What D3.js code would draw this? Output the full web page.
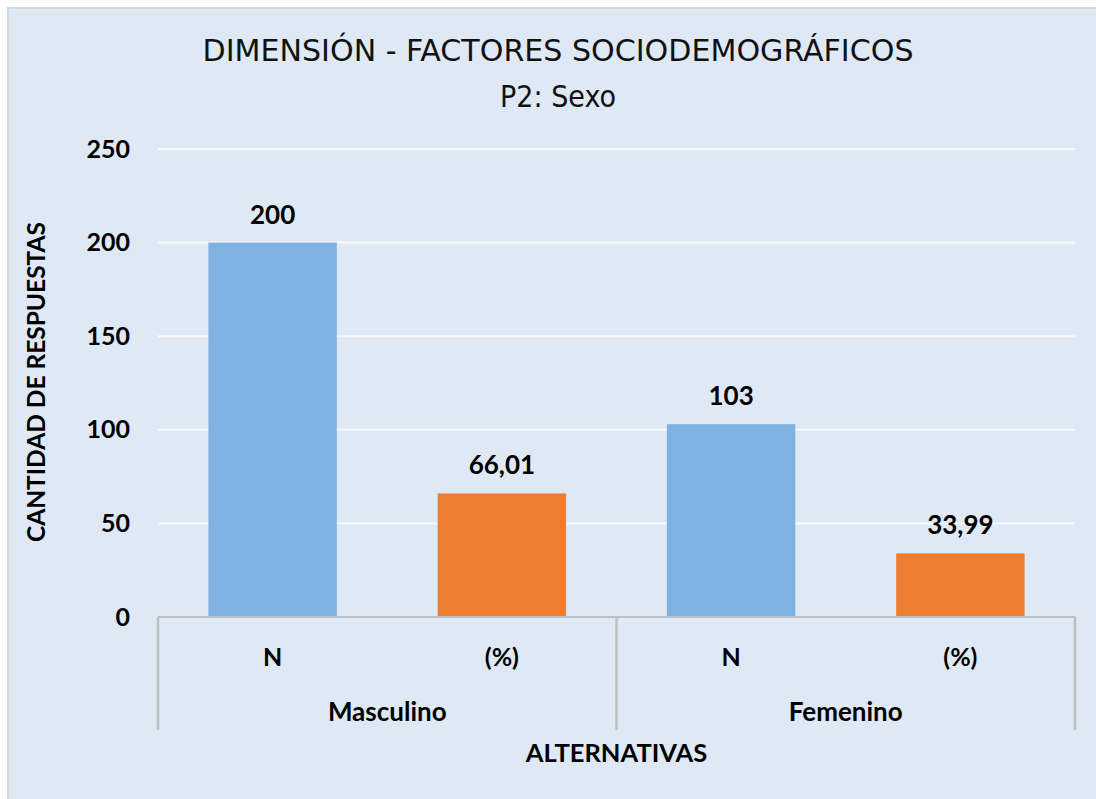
<!DOCTYPE html>
<html>
<head>
<meta charset="utf-8">
<script src="https://cdn.jsdelivr.net/npm/d3@7"></script>
<style>
  body { margin: 0; background: #ffffff; }
  svg { display: block; }
</style>
</head>
<body>
<script>
// ----- DATA -----
const groups = ["Masculino", "Femenino"];
const measures = ["N", "(%)"];
const valuesN = [200, 103];
const valuesPct = [66.01, 33.99];
const yTicks = [0, 50, 100, 150, 200, 250];
const colors = ["#7fb1e1", "#ed7d31"];

const w = 1096;
const h = 799;
const margin = { left: 158, right: 21, top: 149, bottom: 182 };

// es locale, comma as decimal sign
const es = d3.formatLocale({ decimal: ",", thousands: ".", grouping: [3], currency: ["", ""] });
const fmtN = es.format("d");
const fmtPct = es.format(".2f");

const rows = [];
groups.forEach((g, i) => {
  rows.push({ group: g, measure: measures[0], value: valuesN[i], label: fmtN(valuesN[i]) });
  rows.push({ group: g, measure: measures[1], value: valuesPct[i], label: fmtPct(valuesPct[i]) });
});

const svg = d3.select("body").append("svg")
  .attr("width", w)
  .attr("height", h);

// chart area with grey frame
svg.append("rect")
  .attr("x", 7).attr("y", 7)
  .attr("width", w - 7).attr("height", h - 7)
  .attr("fill", "#d9d9d9");
svg.append("rect")
  .attr("x", 9).attr("y", 9)
  .attr("width", w - 9).attr("height", h - 9)
  .attr("fill", "#dee9f5");

// ----- SCALES -----
const x0 = d3.scaleBand()
  .domain(groups)
  .range([margin.left, w - margin.right])
  .paddingInner(0);

const x1 = d3.scaleBand()
  .domain(measures)
  .range([0, x0.bandwidth()])
  .paddingInner(0.44)
  .paddingOuter(0.22);

const yScale = d3.scaleLinear()
  .domain([0, 250])
  .range([h - margin.bottom, margin.top]);

const boldFont = "Lato, 'Open Sans', sans-serif";

// ----- GRID -----
svg.append("g")
  .selectAll("line")
  .data(yTicks.filter(t => t > 0))
  .join("line")
  .attr("x1", margin.left).attr("x2", w - margin.right)
  .attr("y1", d => yScale(d)).attr("y2", d => yScale(d))
  .attr("stroke", "#f7f9fc")
  .attr("stroke-width", 2);

// ----- Y AXIS -----
const yAxis = d3.axisLeft(yScale).tickValues(yTicks).tickSize(0).tickPadding(28);
svg.append("g")
  .attr("transform", "translate(" + margin.left + ",0)")
  .call(yAxis)
  .call(g => g.select(".domain").remove())
  .selectAll("text")
  .attr("font-family", boldFont)
  .attr("font-weight", "bold")
  .attr("font-size", 25)
  .attr("fill", "#000");

// ----- BARS -----
const barG = svg.append("g");
barG.selectAll("rect")
  .data(rows)
  .join("rect")
  .attr("x", d => x0(d.group) + x1(d.measure))
  .attr("y", d => yScale(d.value))
  .attr("width", x1.bandwidth())
  .attr("height", d => yScale(0) - yScale(d.value))
  .attr("fill", d => colors[measures.indexOf(d.measure)]);

// value labels
barG.selectAll("text")
  .data(rows)
  .join("text")
  .attr("x", d => x0(d.group) + x1(d.measure) + x1.bandwidth() / 2)
  .attr("y", d => yScale(d.value) - 19)
  .attr("text-anchor", "middle")
  .attr("font-family", boldFont)
  .attr("font-weight", "bold")
  .attr("font-size", 26)
  .text(d => d.label);

// ----- X AXIS (two level) -----
const y0 = yScale(0);
const axisColor = "#bfbfbf";
svg.append("line")
  .attr("x1", margin.left).attr("x2", w - margin.right)
  .attr("y1", y0).attr("y2", y0)
  .attr("stroke", axisColor).attr("stroke-width", 2);

const bounds = groups.map(g => x0(g)).concat([x0(groups[groups.length - 1]) + x0.bandwidth()]);
svg.append("g")
  .selectAll("line")
  .data(bounds)
  .join("line")
  .attr("x1", d => d).attr("x2", d => d)
  .attr("y1", y0).attr("y2", y0 + 113)
  .attr("stroke", axisColor).attr("stroke-width", 2.5);

// inner category labels
svg.append("g")
  .selectAll("text")
  .data(rows)
  .join("text")
  .attr("x", d => x0(d.group) + x1(d.measure) + x1.bandwidth() / 2)
  .attr("y", y0 + 49)
  .attr("text-anchor", "middle")
  .attr("font-family", boldFont)
  .attr("font-weight", "bold")
  .attr("font-size", 25)
  .text(d => d.measure);

// group labels
svg.append("g")
  .selectAll("text")
  .data(groups)
  .join("text")
  .attr("x", d => x0(d) + x0.bandwidth() / 2)
  .attr("y", y0 + 104)
  .attr("text-anchor", "middle")
  .attr("font-family", boldFont)
  .attr("font-weight", "bold")
  .attr("font-size", 26)
  .text(d => d);

// ----- AXIS TITLES -----
svg.append("text")
  .attr("x", (margin.left + w - margin.right) / 2)
  .attr("y", 762)
  .attr("text-anchor", "middle")
  .attr("font-family", boldFont)
  .attr("font-weight", "bold")
  .attr("font-size", 25.5)
  .text("ALTERNATIVAS");

svg.append("text")
  .attr("transform", "translate(45," + 382 + ") rotate(-90)")
  .attr("text-anchor", "middle")
  .attr("font-family", boldFont)
  .attr("font-weight", "bold")
  .attr("font-size", 24.5)
  .text("CANTIDAD DE RESPUESTAS");

// ----- TITLE -----
svg.append("text")
  .attr("x", 558)
  .attr("y", 61)
  .attr("text-anchor", "middle")
  .attr("font-family", "'Liberation Sans Narrow', 'DejaVu Sans Condensed', sans-serif")
  .attr("font-size", 30)
  .attr("textLength", 711)
  .attr("lengthAdjust", "spacingAndGlyphs")
  .attr("fill", "#111")
  .text("DIMENSIÓN - FACTORES SOCIODEMOGRÁFICOS");

svg.append("text")
  .attr("x", 558)
  .attr("y", 107)
  .attr("text-anchor", "middle")
  .attr("font-family", "'Liberation Sans Narrow', 'DejaVu Sans Condensed', sans-serif")
  .attr("font-size", 30)
  .attr("fill", "#111")
  .text("P2: Sexo");
</script>
</body>
</html>
